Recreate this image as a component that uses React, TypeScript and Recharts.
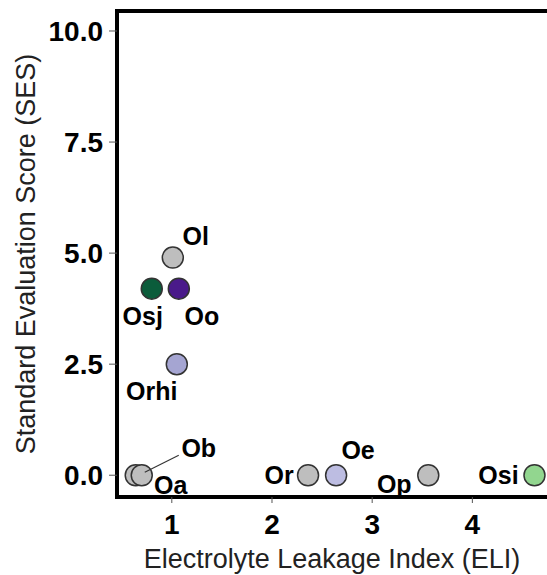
import { ReferenceLine, Scatter, ScatterChart, XAxis, YAxis } from 'recharts';

// cultivars, electrolyte leakage index, standard evaluation score
const names = ['Oa', 'Ob', 'Or', 'Oe', 'Op', 'Osi', 'Orhi', 'Osj', 'Oo', 'Ol'];
const eli = [0.64, 0.7, 2.36, 2.64, 3.56, 4.62, 1.05, 0.8, 1.07, 1.01];
const ses = [0, 0, 0, 0, 0, 0, 2.5, 4.2, 4.2, 4.9];
const xTicks = [1, 2, 3, 4];
const yTicks = [0, 2.5, 5, 7.5, 10];

const fills: Record<string, string> = {
  Oa: '#bebebe',
  Ob: '#bebebe',
  Or: '#bebebe',
  Oe: '#bdbde2',
  Op: '#bebebe',
  Osi: '#92d68f',
  Orhi: '#a5a5d2',
  Osj: '#0b5c3b',
  Oo: '#4a1a8a',
  Ol: '#bebebe',
};

// label placement relative to the point (px)
const labelPos: Record<string, { dx: number; dy: number; leader?: boolean }> = {
  Oa: { dx: 35, dy: 10 },
  Ob: { dx: 57, dy: -27, leader: true },
  Or: { dx: -29, dy: 0 },
  Oe: { dx: 22, dy: -25 },
  Op: { dx: -34, dy: 9 },
  Osi: { dx: -36, dy: 0 },
  Orhi: { dx: -25, dy: 27 },
  Osj: { dx: -9, dy: 27 },
  Oo: { dx: 23, dy: 27 },
  Ol: { dx: 23, dy: -22 },
};

const data = names.map((name, i) => ({ name, eli: eli[i], ses: ses[i] }));

const font = '"Liberation Sans", Arial, sans-serif';

const Dot = (props: any) => (
  <circle cx={props.cx} cy={props.cy} r={10.5} fill={fills[props.payload.name]} stroke="#333" strokeWidth={1.5} />
);

const Tag = (props: any) => {
  const p = labelPos[props.payload.name];
  return (
    <g>
      {p.leader && (
        <line x1={props.cx + 3} y1={props.cy - 3} x2={props.cx + 37} y2={props.cy - 20} stroke="#333" strokeWidth={1.2} />
      )}
      <text
        x={props.cx + p.dx}
        y={props.cy + p.dy}
        textAnchor="middle"
        dominantBaseline="central"
        fontFamily={font}
        fontWeight="bold"
        fontSize={25}
        fill="#000"
      >
        {props.payload.name}
      </text>
    </g>
  );
};

export default function App() {
  return (
    <div style={{ position: 'absolute', left: 0, top: 0, width: 547, height: 575, overflow: 'hidden', background: '#fff' }}>
      <ScatterChart width={547} height={575} margin={{ top: 11, right: 0, bottom: 0, left: 0 }}>
        <XAxis
          type="number"
          dataKey="eli"
          domain={[0.453, 4.745]}
          ticks={xTicks}
          allowDataOverflow
          height={78}
          tickSize={6}
          tickMargin={11}
          axisLine={{ stroke: '#000', strokeWidth: 4, strokeLinecap: 'square' }}
          tickLine={{ stroke: '#555' }}
          tick={{ fill: '#000', fontSize: 28, fontWeight: 'bold', fontFamily: font }}
          label={{
            value: 'Electrolyte Leakage Index (ELI)',
            position: 'insideBottom',
            offset: 7,
            fill: '#222',
            fontSize: 27,
            fontFamily: font,
          }}
        />
        <YAxis
          type="number"
          dataKey="ses"
          domain={[-0.49, 10.45]}
          ticks={yTicks}
          allowDataOverflow
          width={117}
          tickSize={8}
          tickMargin={6}
          tickFormatter={(v: number) => v.toFixed(1)}
          axisLine={{ stroke: '#000', strokeWidth: 4, strokeLinecap: 'square' }}
          tickLine={{ stroke: '#555' }}
          tick={{ fill: '#000', fontSize: 28, fontWeight: 'bold', fontFamily: font }}
          label={{
            value: 'Standard Evaluation Score (SES)',
            angle: -90,
            position: 'insideLeft',
            offset: 25,
            fill: '#222',
            fontSize: 27,
            fontFamily: font,
            style: { textAnchor: 'middle' },
          }}
        />
        <ReferenceLine y={10.45} stroke="#000" strokeWidth={4} strokeLinecap="square" />
        <Scatter data={data} shape={Dot} isAnimationActive={false} />
        <Scatter data={data} shape={Tag} isAnimationActive={false} />
      </ScatterChart>
    </div>
  );
}
